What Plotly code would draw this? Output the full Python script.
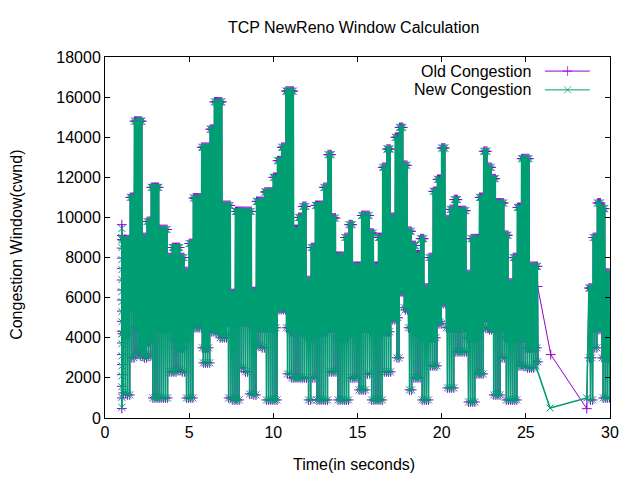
import plotly.graph_objects as go

# cwnd samples in 0.25 s bins:
# top of the saw, lower edge of the solid band, lowest dips
seg1_start = 1.0
seg1_hi = [8890, 8890, 11000, 14800, 14800, 9000, 9800, 11500, 11500, 9400, 9400, 8000, 8500, 8500, 8000, 7300,
           8700, 10970, 10970, 13500, 13500, 14400, 15760, 15760, 10600, 10600, 6200, 10300, 10300, 10300, 10300, 6300,
           10800, 10800, 11270, 11270,
           12000, 12830, 13500, 16300, 16300, 9400, 10000, 10550, 6850, 8500, 10600, 10600, 11500, 13130, 9970, 8060,
           8060, 9000, 9640, 7560,
           7560, 10100, 10100, 9220, 7560, 9000, 12500, 13410, 10000, 14000, 14490, 12600, 9310, 8600, 8140, 8940,
           6480, 8000, 11300, 11900,
           13460, 9890, 10400, 10890, 10340, 10340, 7150, 8940, 8940, 11000, 13300, 12500, 11930, 10720, 10720, 9110,
           6730, 8000, 10500, 12930,
           12930, 7560, 7560]
seg1_mid = [4200, 4200, 5500, 4500, 3500, 3200, 3800, 4000, 4500, 4500, 4500, 4500, 4000, 3500, 3500, 4000,
            4500, 4800, 4800, 3500, 3500, 4500, 4500, 4200, 4200, 4800, 4800, 4800, 4800, 4800, 4800, 4500,
            4500, 4500, 4500, 4500,
            4500, 5500, 5500, 4500, 4300, 4300, 4300, 4300, 4000, 4000, 4300, 4300, 4300, 4500, 4500, 4000,
            4000, 4000, 4300, 4300,
            4500, 4500, 4500, 4300, 4300, 4300, 4300, 4300, 5000, 5000, 6300, 5500, 4500, 4300, 4300, 4000,
            4000, 4000, 4000, 4800,
            5800, 4500, 4500, 4500, 4500, 4500, 4000, 4000, 4000, 4500, 5000, 4500, 4500, 4500, 4500, 4000,
            4000, 4000, 4000, 4000,
            3500, 3500, 3500]
seg1_lo = [1250, 1150, 3000, 3200, 3100, 3000, 3100, 1000, 1000, 1000, 1000, 2300, 2300, 2400, 2300, 1000,
           1000, 4500, 4500, 2750, 2750, 4300, 4300, 4000, 4000, 1000, 900, 900, 2500, 2300, 1200, 1150,
           3600, 3500, 900, 900,
           900, 5400, 5400, 2200, 2000, 2000, 2000, 2000, 900, 2000, 900, 900, 900, 2300, 2300, 900,
           900, 900, 2000, 2000,
           1400, 1400, 2200, 900, 900, 900, 2300, 2300, 4900, 3000, 6300, 5400, 1400, 2000, 2000, 900,
           900, 2600, 2600, 4700,
           5700, 1500, 1500, 3300, 3300, 3300, 800, 800, 2200, 2200, 4500, 4400, 1150, 1150, 3000, 900,
           900, 900, 2600, 2600,
           2500, 2500, 2800]

seg2_start = 28.75
seg2_hi = [6480, 9000, 10720, 10440, 7230]
seg2_mid = [3000, 4500, 4500, 3000, 3000]
seg2_lo = [900, 3500, 4400, 1000, 1000]

# first samples at t = 1 s (vertical column of points)
old_first = [470, 1000, 1580, 2160, 2660, 3160, 3740, 4320, 4820, 5330, 5880, 6380, 6880, 7450, 7970, 8470, 9100, 9640]
new_first = [530, 1030, 1560, 2100, 2600, 3100, 3700, 4200, 4800, 5300, 5800, 6300, 6900, 7400, 7900, 8500, 9000, 9450]

# the sparse stretch between 25.7 s and 28.6 s
old_gap_t = [25.7, 26.48, 28.62]
old_gap_v = [6560, 3160, 465]
new_gap_t = [25.6, 26.44, 28.62]
new_gap_v = [2580, 500, 1000]

BIN = 0.25
PATTERN = "hmhlhmhl"


def saw(start, hi, mid, lo):
    t, v = [], []
    for i in range(len(hi)):
        vals = {"h": hi[i], "m": mid[i], "l": lo[i]}
        for k, p in enumerate(PATTERN):
            t.append(start + i * BIN + k * BIN / len(PATTERN))
            v.append(vals[p])
    return t, v


def series(first, gap_t, gap_v):
    t1, v1 = saw(seg1_start, seg1_hi, seg1_mid, seg1_lo)
    t2, v2 = saw(seg2_start, seg2_hi, seg2_mid, seg2_lo)
    t = [1.0] * len(first) + t1 + gap_t + t2
    v = first + v1 + gap_v + v2
    return t, v


old_t, old_v = series(old_first, old_gap_t, old_gap_v)
new_t, new_v = series(new_first, new_gap_t, new_gap_v)

purple = "#9400D3"
green = "#009E73"
font = "Liberation Sans, Arial, sans-serif"

fig = go.Figure()
fig.add_trace(go.Scatter(x=old_t, y=old_v, mode="lines+markers", name="Old Congestion",
                         line=dict(color=purple, width=1),
                         marker=dict(symbol="cross-thin", size=7, line=dict(color=purple, width=1))))
fig.add_trace(go.Scatter(x=new_t, y=new_v, mode="lines+markers", name="New Congestion",
                         line=dict(color=green, width=1.6),
                         marker=dict(symbol="x-thin", size=7, line=dict(color=green, width=1))))

# gnuplot style key: text on the left, sample on the right
for name, col, sym, ky in [("Old Congestion", purple, "cross-thin", 0.961),
                           ("New Congestion", green, "x-thin", 0.909)]:
    fig.add_trace(go.Scatter(x=[0.871, 0.916, 0.960], y=[ky] * 3, xaxis="x2", yaxis="y2",
                             mode="lines+markers", line=dict(color=col, width=1),
                             marker=dict(symbol=sym, size=[0, 7, 0], line=dict(color=col, width=1)),
                             hoverinfo="skip"))
    fig.add_annotation(text=name, xref="paper", yref="paper", x=0.847, y=ky,
                       xanchor="right", yanchor="middle", showarrow=False,
                       font=dict(family=font, size=16, color="black"))

fig.add_annotation(text="Time(in seconds)", xref="paper", yref="paper", x=0.493, y=-0.13,
                   xanchor="center", yanchor="middle", showarrow=False,
                   font=dict(family=font, size=16, color="black"))
fig.add_annotation(text="Congestion Window(cwnd)", xref="paper", yref="paper", x=-0.174, y=0.48,
                   xanchor="center", yanchor="middle", textangle=-90, showarrow=False,
                   font=dict(family=font, size=16, color="black"))

axis = dict(showline=True, linecolor="black", linewidth=1, mirror="ticks", ticks="inside",
            ticklen=5, tickcolor="black", showgrid=False, zeroline=False, tickformat="d",
            tickfont=dict(family=font, size=16, color="black"))
# the page body adds 8 px on the left and top, so the margins are trimmed by that much
fig.update_layout(
    width=640, height=480,
    margin=dict(l=97, r=38, t=49, b=70),
    paper_bgcolor="white", plot_bgcolor="white",
    showlegend=False,
    title=dict(text="TCP NewReno Window Calculation", x=0.540, y=0.960, xanchor="center", yanchor="middle",
               font=dict(family=font, size=16, color="black")),
    xaxis=dict(range=[0, 30], tick0=0, dtick=5, **axis),
    yaxis=dict(range=[0, 18000], tick0=0, dtick=2000, **axis),
    xaxis2=dict(range=[0, 1], overlaying="x", visible=False),
    yaxis2=dict(range=[0, 1], overlaying="y", visible=False),
)

fig.write_html("out.html")
